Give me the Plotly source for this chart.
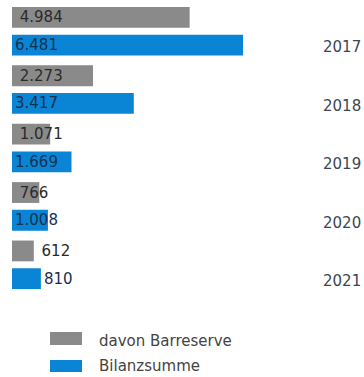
import plotly.graph_objects as go

years = ["2017", "2018", "2019", "2020", "2021"]
barreserve = [4984, 2273, 1071, 766, 612]
bilanzsumme = [6481, 3417, 1669, 1008, 810]
series_names = ["davon Barreserve", "Bilanzsumme"]

GRAY = "#8a8a8a"
BLUE = "#0a84d4"
FONT = "DejaVu Sans"

def positions(vals, limit):
    return ["outside" if v < limit else "inside" for v in vals]

fig = go.Figure()
fig.add_trace(go.Bar(
    y=years, x=barreserve, orientation="h", name=series_names[0],
    marker=dict(color=GRAY, line=dict(width=0)),
    texttemplate="\u00a0%{x:,}", textposition=positions(barreserve, 700),
    insidetextanchor="start", constraintext="none", cliponaxis=False,
    textfont=dict(family=FONT, size=15, color="#2a2a2a"),
    showlegend=False,
))
fig.add_trace(go.Bar(
    y=years, x=bilanzsumme, orientation="h", name=series_names[1],
    marker=dict(color=BLUE, line=dict(width=0)),
    texttemplate="%{x:,}", textposition=positions(bilanzsumme, 900),
    insidetextanchor="start", constraintext="none", cliponaxis=False,
    textfont=dict(family=FONT, size=15, color="#15314f"),
    showlegend=False,
))

# manual legend
legend_items = [(series_names[0], GRAY, -0.130, -0.175, -0.161),
                (series_names[1], BLUE, -0.226, -0.267, -0.2466)]
shapes, annotations = [], []
for name, col, y0, y1, yt in legend_items:
    shapes.append(dict(type="rect", xref="paper", yref="paper",
                       x0=0.1242, x1=0.2288, y0=y1, y1=y0,
                       fillcolor=col, line=dict(width=0)))
    annotations.append(dict(text=name, xref="paper", yref="paper",
                            x=0.2778, y=yt, xanchor="left", yanchor="middle",
                            showarrow=False,
                            font=dict(family=FONT, size=15, color="#444444")))

fig.update_layout(
    width=364, height=377,
    margin=dict(l=12, r=46, t=2, b=83),
    paper_bgcolor="white", plot_bgcolor="white",
    barmode="group", bargap=0.05, bargroupgap=0.25,
    separators=",.",
    shapes=shapes, annotations=annotations,
    xaxis=dict(range=[0, 8585], visible=False, showgrid=False, zeroline=False),
    yaxis=dict(autorange="reversed", side="right", showgrid=False,
               zeroline=False, showline=False, ticks="",
               ticklabelstandoff=4, ticklabelshift=-16,
               tickfont=dict(family=FONT, size=15, color="#3d4652")),
    showlegend=False,
)

fig.write_html("out.html")
